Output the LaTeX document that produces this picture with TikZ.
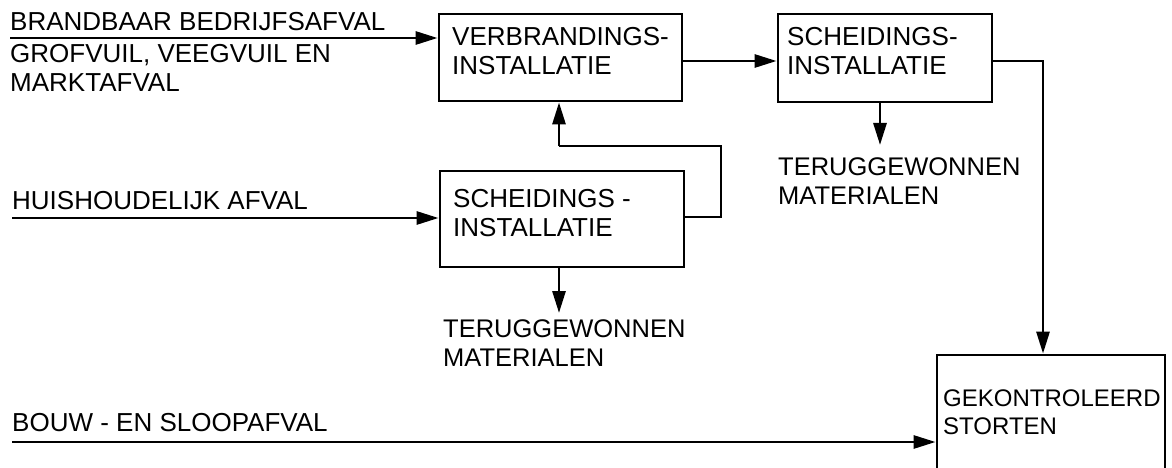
\documentclass[tikz,border=0pt]{standalone}
\usepackage{fontspec}
\setmainfont{Liberation Sans}
\usetikzlibrary{arrows.meta}
\begin{document}
\begin{tikzpicture}[x=1pt,y=-1pt,
  box/.style={draw,line width=2.8pt,inner sep=0pt},
  lab/.style={anchor=north west,inner sep=0pt,align=left,font=\fontsize{26}{29}\selectfont},
  flow/.style={line width=2.8pt,-{Triangle[length=22pt,width=13pt]}},
  plain/.style={line width=2.8pt}]
\useasboundingbox (0,0) rectangle (1172,468);
\clip (0,0) rectangle (1172,468);
% boxes
\node[box,minimum width=243pt,minimum height=87pt] (V) at (560.5,57.5) {};
\node[box,minimum width=214pt,minimum height=88pt] (S2) at (885,58) {};
\node[box,minimum width=244pt,minimum height=96pt] (S1) at (562,219) {};
\node[box,minimum width=228pt,minimum height=170pt] (G) at (1051,440) {};
% box texts
\node[lab] (tV) at (452,27) {VERBRANDINGS-\\INSTALLATIE};
\node[lab] (tS2) at (787,27) {SCHEIDINGS-\\INSTALLATIE};
\node[lab] (tS1) at (453,189) {SCHEIDINGS -\\INSTALLATIE};
\node[lab,font=\fontsize{24}{28}\selectfont] (tG) at (943,390) {GEKONTROLEERD\\STORTEN};
% outputs
\node[lab,font=\fontsize{25.5}{29}\selectfont] (r1) at (443,319) {TERUGGEWONNEN\\MATERIALEN};
\node[lab,font=\fontsize{25.5}{29}\selectfont] (r2) at (778,157) {TERUGGEWONNEN\\MATERIALEN};
% inputs
\node[lab] (i1) at (10,12) {BRANDBAAR BEDRIJFSAFVAL};
\node[lab] (i2) at (10,44) {GROFVUIL, VEEGVUIL EN\\MARKTAFVAL};
\node[lab] (i3) at (12,191) {HUISHOUDELIJK AFVAL};
\node[lab] (i4) at (12,413) {BOUW - EN SLOOPAFVAL};
% free ends
\coordinate (a1) at (10,38);
\coordinate (a2) at (12,218);
\coordinate (a3) at (12,442);
\coordinate (k1) at (721,146);
\coordinate (k2) at (559,146);
\coordinate (k3) at (1043,61);
\coordinate (d1) at (559,313);
\coordinate (d2) at (880,145);
% connectors
\draw[flow] (a1) -- (a1 -| V.west);
\draw[flow] (a2) -- (a2 -| S1.west);
\draw[flow] (a3) -- (a3 -| G.west);
\draw[flow] (V.east |- 0,61) -- (S2.west |- 0,61);
\draw[plain] (S1.east |- 0,217) -| (k1) -- (k2);
\draw[flow] (k2) -- (k2 |- V.south);
\draw[flow] (d1 |- S1.south) -- (d1);
\draw[flow] (d2 |- S2.south) -- (d2);
\draw[flow] (S2.east |- k3) -- (k3) -- (k3 |- G.north);
\end{tikzpicture}
\end{document}
